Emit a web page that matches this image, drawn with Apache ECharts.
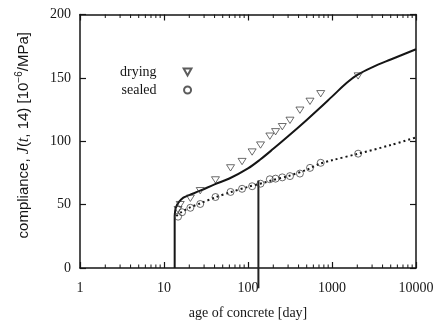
<!DOCTYPE html>
<html>
<head>
<meta charset="utf-8">
<script src="https://cdn.jsdelivr.net/npm/echarts@6/dist/echarts.min.js"></script>
<style>html,body{margin:0;padding:0;background:#fff}#c{width:441px;height:325px}</style>
</head>
<body>
<div id="c"></div>
<script>
// ---- data ----
var xTickLabels = [1, 10, 100, 1000, 10000];
var yTicks = [0, 50, 100, 150, 200];
var minorTicks = [2,3,4,5,6,7,8,9,20,30,40,50,60,70,80,90,200,300,400,500,600,700,800,900,2000,3000,4000,5000,6000,7000,8000,9000];

var dryingAge = [14.7, 15.6, 20.6, 27, 41, 62, 85, 112, 141, 182, 213, 256, 316, 415, 547, 734, 2047];
var dryingJ   = [46, 50, 55, 61, 69.5, 79, 84, 91.5, 97, 104, 107.5, 111.5, 116.5, 124.5, 131.5, 137.5, 151.5];

var sealedAge = [14.7, 16.4, 20.6, 27, 41, 62, 85, 112, 141, 182, 213, 256, 316, 415, 547, 734, 2047];
var sealedJ   = [40.5, 44, 47.5, 50.5, 56, 60, 62.5, 64.5, 66.5, 70, 70.5, 71.5, 72.5, 74.5, 79, 83, 90.2];

// drying model: instantaneous rise at loading, then creep curve
var dryRiseAge = [13.4, 13.4];
var dryRiseJ   = [0, 41];
var dryFitAge = [13.4, 13.6, 14, 15, 17, 20, 27, 40, 60, 100, 140, 200, 300, 500, 700, 1000, 1500, 2000, 3000, 5000, 10000];
var dryFitJ   = [41, 45.5, 48.5, 52, 55.5, 57.5, 61, 66, 70.6, 78.6, 85.6, 94, 103.9, 116.8, 125.6, 135.2, 146.1, 152.3, 158.3, 164.5, 172.6];

var sealFitAge = [14, 16, 20, 27, 40, 60, 100, 150, 200, 300, 500, 700, 1000, 2000, 5000, 10000];
var sealFitJ   = [41, 44, 47.5, 51, 55.5, 59.5, 64, 67, 69.5, 72.5, 77.5, 82, 85, 90, 97, 103];

var markAge = [133, 133];
var markJ   = [-16, 69];

function pairs(a, b) { return a.map(function (v, i) { return [v, b[i]]; }); }

var serif = 'Liberation Serif';
var ink = '#151515';

var chart = echarts.init(document.getElementById('c'), null, {renderer: 'canvas'});
chart.setOption({
  animation: false,
  backgroundColor: '#fff',
  grid: {left: 80, right: 25, top: 14.5, bottom: 50.5, containLabel: false},
  legend: {
    data: ['drying', 'sealed'],
    orient: 'vertical',
    left: 115, top: 59,
    align: 'right',
    itemWidth: 52, itemHeight: 7, itemGap: 2,
    textStyle: {fontFamily: serif, fontSize: 14, color: ink, lineHeight: 16, padding: 0},
    selectedMode: false
  },
  xAxis: [{
    type: 'log', logBase: 10, min: 1, max: 10000, position: 'bottom',
    name: 'age of concrete [day]', nameLocation: 'middle', nameGap: 38,
    nameTextStyle: {fontFamily: serif, fontSize: 14, color: ink},
    axisLine: {lineStyle: {color: ink, width: 1.5}},
    axisTick: {inside: true, length: 6, lineStyle: {color: ink, width: 1.2}},
    axisLabel: {fontFamily: serif, fontSize: 14, color: ink, margin: 13,
      formatter: function (v) { return xTickLabels.indexOf(v) >= 0 ? String(v) : ''; }},
    splitLine: {show: false}
  }, {
    type: 'log', logBase: 10, min: 1, max: 10000, position: 'top',
    axisLine: {show: true, onZero: false, lineStyle: {color: ink, width: 1.5}},
    axisTick: {show: true, inside: true, length: 6, lineStyle: {color: ink, width: 1.2}},
    axisLabel: {show: false}, splitLine: {show: false}
  }],
  yAxis: [{
    type: 'value', min: 0, max: 200, interval: 50, position: 'left',
    name: '{a|compliance, }{i|J}{a|(}{i|t}{a|, 14) [10}{s|\u22126}{a|/MPa]}',
    nameLocation: 'middle', nameGap: 47,
    nameTextStyle: {
      color: ink,
      padding: [0, 0, 0, 12],
      rich: {
        a: {fontFamily: 'Liberation Sans', fontSize: 15, color: ink},
        i: {fontFamily: serif, fontStyle: 'italic', fontSize: 16, color: ink},
        s: {fontFamily: 'Liberation Sans', fontSize: 10, color: ink, padding: [0, 0, 9, 0]}
      }
    },
    axisLine: {show: true, lineStyle: {color: ink, width: 1.5}},
    axisTick: {show: true, inside: true, length: 6, lineStyle: {color: ink, width: 1.2}},
    axisLabel: {fontFamily: serif, fontSize: 14, color: ink, margin: 9,
      formatter: function (v) { return yTicks.indexOf(v) >= 0 ? String(v) : ''; }},
    splitLine: {show: false}
  }, {
    type: 'value', min: 0, max: 200, interval: 50, position: 'right',
    axisLine: {show: true, onZero: false, lineStyle: {color: ink, width: 1.5}},
    axisTick: {show: true, inside: true, length: 6, lineStyle: {color: ink, width: 1.2}},
    axisLabel: {show: false}, splitLine: {show: false}
  }],
  series: [
    {
      name: 'minor', type: 'custom', xAxisIndex: 1, yAxisIndex: 1, silent: true, clip: false,
      data: minorTicks.map(function (v) { return [v, 0]; }),
      renderItem: function (params, api) {
        var x = api.value(0);
        var pb = api.coord([x, 0]);
        var pt = api.coord([x, 200]);
        return {type: 'group', children: [
          {type: 'line', shape: {x1: pb[0], y1: pb[1], x2: pb[0], y2: pb[1] - 3.5}, style: {stroke: ink, lineWidth: 1}},
          {type: 'line', shape: {x1: pt[0], y1: pt[1], x2: pt[0], y2: pt[1] + 3.5}, style: {stroke: ink, lineWidth: 1}}
        ]};
      }
    },
    {
      name: 'dryingRise', type: 'line', data: pairs(dryRiseAge, dryRiseJ),
      showSymbol: false, symbol: 'none', smooth: false,
      lineStyle: {color: ink, width: 2}, z: 3
    },
    {
      name: 'dryingFit', type: 'line', data: pairs(dryFitAge, dryFitJ),
      showSymbol: false, symbol: 'none', smooth: 0.35,
      lineStyle: {color: ink, width: 2}, z: 3
    },
    {
      name: 'sealedFit', type: 'line', data: pairs(sealFitAge, sealFitJ),
      showSymbol: false, symbol: 'none', smooth: 0.3,
      lineStyle: {color: ink, width: 2, type: [2, 3]}, z: 3
    },
    {
      name: 'mark', type: 'line', data: pairs(markAge, markJ), clip: false,
      showSymbol: false, symbol: 'none',
      lineStyle: {color: '#222', width: 2}, z: 2
    },
    {
      name: 'drying', type: 'scatter', data: pairs(dryingAge, dryingJ),
      symbol: 'path://M0,0 L10,0 L5,9 Z', symbolSize: [8, 7], symbolKeepAspect: true,
      itemStyle: {color: 'rgba(255,255,255,0)', borderColor: '#333', borderWidth: 0.9}, z: 4
    },
    {
      name: 'sealed', type: 'scatter', data: pairs(sealedAge, sealedJ),
      symbol: 'circle', symbolSize: 7, symbolKeepAspect: true,
      itemStyle: {color: 'rgba(255,255,255,0)', borderColor: '#333', borderWidth: 0.9}, z: 4
    }
  ]
});
</script>
</body>
</html>
